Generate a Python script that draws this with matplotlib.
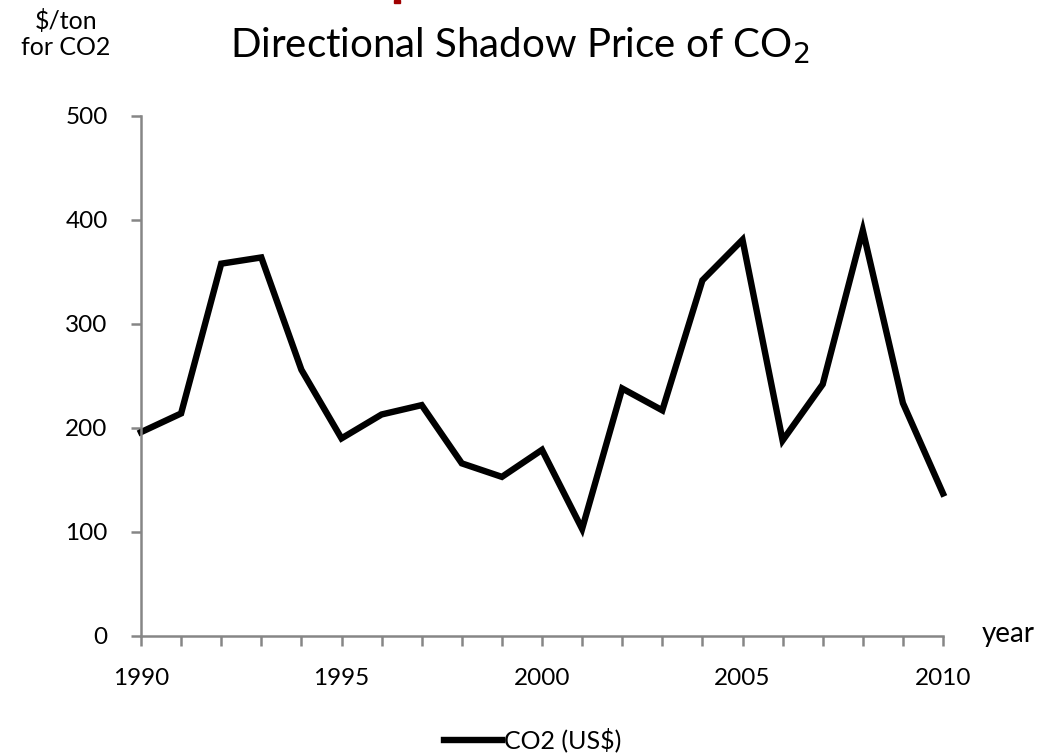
import matplotlib
matplotlib.use("Agg")
import matplotlib.pyplot as plt
from matplotlib.patches import Rectangle

plt.rcParams['font.family'] = ['Lato', 'DejaVu Sans']

years = list(range(1990, 2011))
co2_price = [196, 214, 358, 364, 256, 190, 213, 222, 166, 153, 179,
             103, 238, 217, 342, 381, 188, 242, 390, 224, 137]
x_ticks = [1990, 1995, 2000, 2005, 2010]
y_ticks = [0, 100, 200, 300, 400, 500]
series_label = "CO2 (US$)"
title = "Directional Shadow Price of CO$_2$"

W, H = 1040, 756
fig = plt.figure(figsize=(W / 100, H / 100), dpi=100)
ax = fig.add_axes([141 / W, 1 - 636 / H, (943 - 141) / W, (636 - 116) / H])

ax.plot(years, co2_price, color='black', lw=4.6, solid_joinstyle='miter',
        label=series_label, clip_on=False)

ax.set_xlim(1990, 2010)
ax.set_ylim(0, 500)
ax.set_xticks(x_ticks)
ax.set_xticks(years, minor=True)
ax.set_yticks(y_ticks)

gray = '#868686'
for s in ['top', 'right']:
    ax.spines[s].set_visible(False)
for s in ['left', 'bottom']:
    ax.spines[s].set_color(gray)
    ax.spines[s].set_linewidth(1.8)

ax.tick_params(axis='y', which='major', direction='out', length=7, width=1.8,
               color=gray, labelsize=17.5, pad=17)
ax.tick_params(axis='x', which='both', direction='out', length=7, width=1.8,
               color=gray, labelsize=17.5, pad=16)

fig.text(520 / W, 1 - 46 / H, title, ha='center', va='center', fontsize=29)
fig.text(66 / W, 1 - 34 / H, "$/ton\nfor CO2", ha='center', va='center',
         fontsize=18, linespacing=1.15)
fig.text(1008 / W, 1 - 634 / H, "year", ha='center', va='center', fontsize=20)

leg = fig.legend(loc='center', bbox_to_anchor=(533 / W, 1 - 740 / H),
                 frameon=False, fontsize=18, handlelength=2.3, handletextpad=0.1)

fig.patches.append(Rectangle((394 / W, 1 - 3 / H), 6 / W, 3 / H,
                             transform=fig.transFigure, color='#a00000'))

fig.savefig('out.png', dpi=100)
